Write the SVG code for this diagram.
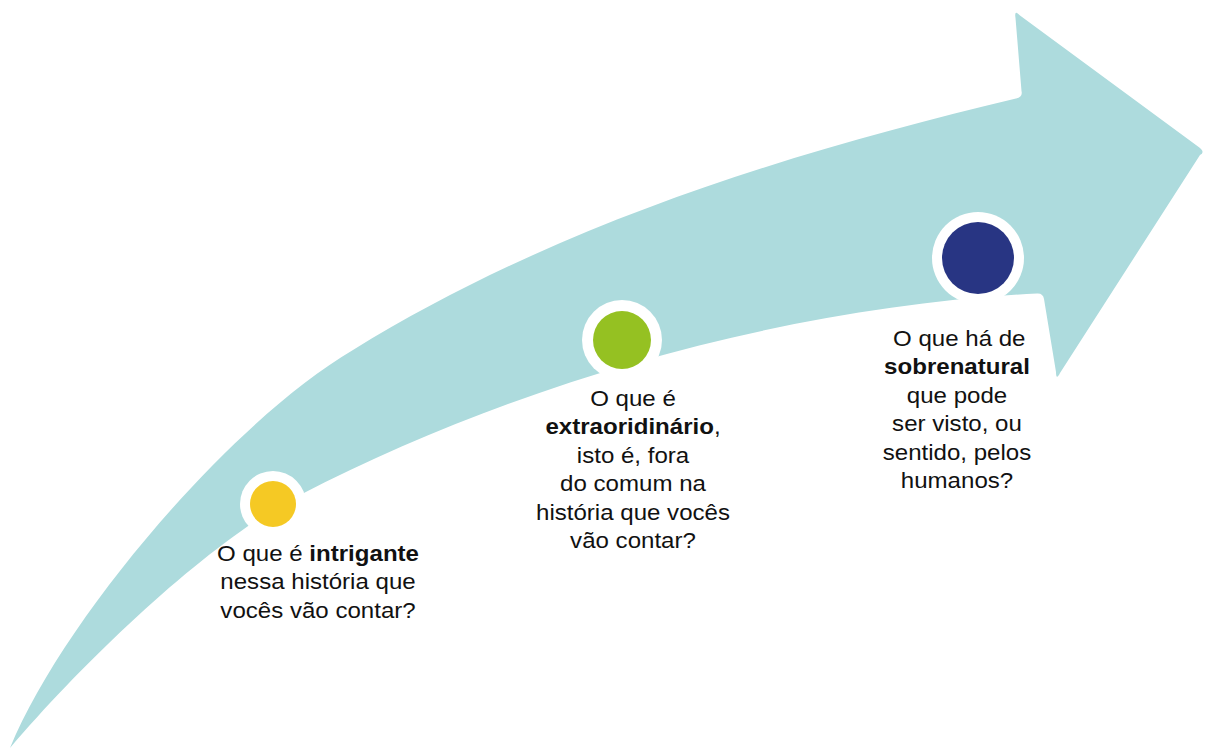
<svg xmlns="http://www.w3.org/2000/svg" width="1205" height="750" viewBox="0 0 1205 750">
<style>
.arrow{fill:#ADDBDD}
.ring{fill:#FFFFFF}
.lbl{font-family:"Liberation Sans",Arial,sans-serif;font-size:21.5px;fill:#111111;text-anchor:middle}
.b{font-weight:bold}
</style>
<rect width="1205" height="750" fill="#FFFFFF"/>
<g id="arrow">
<path class="arrow" d="M 10 748 C 62 621 229 423 353 350 C 560 222 800 150 1016 98.5 Q 1023 97 1021.5 91 L 1015.5 18 Q 1014 9 1020 15.6 L 1198 146.4 Q 1206 152 1200 155 L 1060 373 Q 1056 381 1056 372 L 1044 299 Q 1043 293 1037 293.5 C 793 306 520 380 300 495 C 216 536 91 653 10 748 Z"/>
</g>
<g id="node-intrigante">
<circle class="ring" cx="273" cy="504" r="33"/>
<circle cx="273" cy="504" r="23" fill="#F5C924"/>
<g transform="translate(318 0) scale(1.12 1)">
<text class="lbl" x="0" y="561">O que é <tspan class="b">intrigante</tspan></text>
<text class="lbl" x="0" y="589.5">nessa história que</text>
<text class="lbl" x="0" y="618">vocês vão contar?</text>
</g>
</g>
<g id="node-extraordinario">
<circle class="ring" cx="622" cy="340" r="40"/>
<circle cx="622" cy="340" r="29" fill="#95C122"/>
<g transform="translate(633 0) scale(1.12 1)">
<text class="lbl" x="0" y="406">O que é</text>
<text class="lbl" x="0" y="434.5"><tspan class="b">extraoridinário</tspan>,</text>
<text class="lbl" x="0" y="463">isto é, fora</text>
<text class="lbl" x="0" y="491.5">do comum na</text>
<text class="lbl" x="0" y="520">história que vocês</text>
<text class="lbl" x="0" y="548.5">vão contar?</text>
</g>
</g>
<g id="node-sobrenatural">
<circle class="ring" cx="978" cy="258" r="46"/>
<circle cx="978" cy="258" r="36" fill="#283583"/>
<g transform="translate(957 0) scale(1.12 1)">
<text class="lbl" x="2" y="346">O que há de</text>
<text class="lbl" x="0" y="374.5"><tspan class="b">sobrenatural</tspan></text>
<text class="lbl" x="0" y="403">que pode</text>
<text class="lbl" x="0" y="431.5">ser visto, ou</text>
<text class="lbl" x="0" y="460">sentido, pelos</text>
<text class="lbl" x="0" y="488.5">humanos?</text>
</g>
</g>
<g id="connectors"></g>
</svg>
